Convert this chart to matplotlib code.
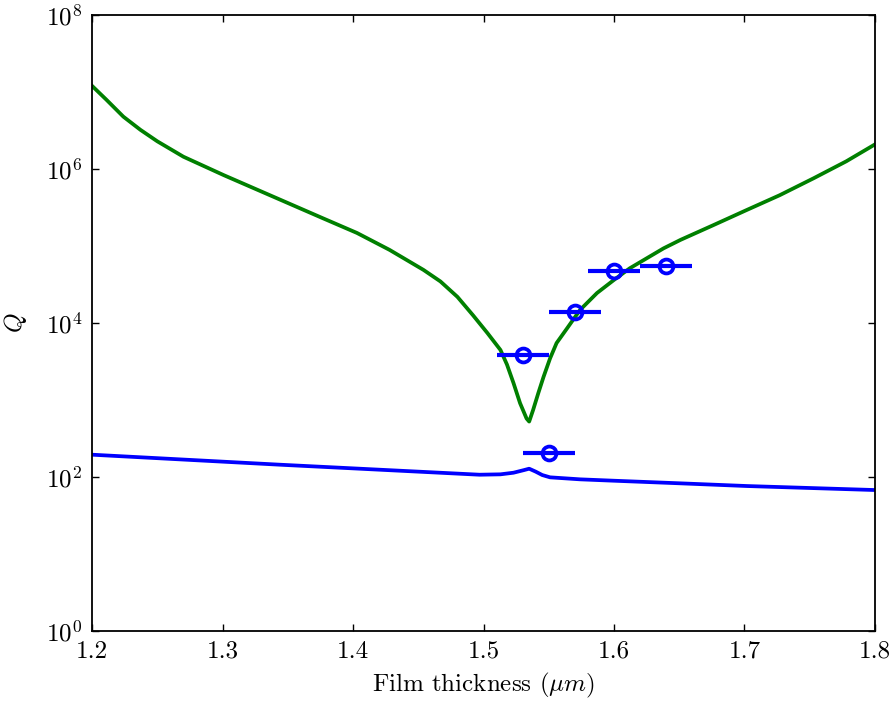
import numpy as np
import matplotlib
matplotlib.use("Agg")
import matplotlib.pyplot as plt

# Q of the resonant mode (green) vs film thickness as log10(Q)
green_x = [1.200, 1.211, 1.224, 1.237, 1.250, 1.270, 1.301, 1.339, 1.377, 1.403,
           1.428, 1.454, 1.467, 1.480, 1.492, 1.503, 1.513, 1.518, 1.523, 1.528,
           1.533, 1.535, 1.538, 1.542, 1.546, 1.551, 1.556, 1.564, 1.574, 1.587,
           1.600, 1.612, 1.625, 1.638, 1.651, 1.676, 1.702, 1.727, 1.753, 1.778,
           1.800]
green_logq = [7.08, 6.90, 6.68, 6.51, 6.36, 6.16, 5.92, 5.64, 5.36, 5.17,
              4.95, 4.69, 4.54, 4.34, 4.10, 3.87, 3.65, 3.46, 3.22, 2.96,
              2.76, 2.72, 2.87, 3.09, 3.30, 3.54, 3.74, 3.93, 4.17, 4.39,
              4.56, 4.71, 4.84, 4.97, 5.08, 5.27, 5.47, 5.66, 5.88, 6.10,
              6.32]

# second mode (blue line)
blue_x = [1.200, 1.344, 1.497, 1.513, 1.523, 1.531, 1.535, 1.540, 1.545, 1.551,
          1.574, 1.600, 1.651, 1.702, 1.800]
blue_logq = [2.29, 2.16, 2.03, 2.035, 2.056, 2.09, 2.108, 2.07, 2.026, 1.996,
             1.97, 1.952, 1.918, 1.883, 1.831]

# measured points with thickness uncertainty
meas_x = [1.530, 1.570, 1.600, 1.640, 1.550]
meas_logq = [3.58, 4.14, 4.68, 4.74, 2.31]
meas_xerr = [0.02, 0.02, 0.02, 0.02, 0.02]

plt.rcParams["font.family"] = "serif"
plt.rcParams["font.serif"] = ["cmr10", "DejaVu Serif"]
plt.rcParams["mathtext.fontset"] = "cm"
plt.rcParams["axes.unicode_minus"] = False
plt.rcParams["axes.formatter.use_mathtext"] = True

fig = plt.figure(figsize=(8.91, 7.02), dpi=100)
ax = fig.add_axes([0.1033, 0.1011, 0.8787, 0.8775])

ax.plot(green_x, 10 ** np.array(green_logq), color="green", lw=2.7)
ax.plot(blue_x, 10 ** np.array(blue_logq), color="blue", lw=2.7)
ax.errorbar(meas_x, 10 ** np.array(meas_logq), xerr=meas_xerr, fmt="o",
            color="blue", mfc="none", mec="blue", ms=10, mew=2.7,
            elinewidth=3.0, capsize=0)

ax.set_yscale("log")
ax.set_xlim(1.2, 1.8)
ax.set_ylim(1, 1e8)
ax.set_yticks([1, 1e2, 1e4, 1e6, 1e8])
ax.yaxis.set_minor_locator(matplotlib.ticker.NullLocator())
ax.set_xticks(np.arange(1.2, 1.81, 0.1))
ax.xaxis.set_major_formatter(matplotlib.ticker.FormatStrFormatter("%.1f"))

ax.tick_params(direction="in", length=5, width=1, top=True, right=True, labelsize=18)
ax.tick_params(axis="x", pad=7)
ax.tick_params(axis="y", pad=7)
for s in ax.spines.values():
    s.set_linewidth(1.3)

ax.set_xlabel(r"Film thickness ($\mu m$)", fontsize=18, labelpad=6)
ax.set_ylabel(r"$Q$", fontsize=18, labelpad=12)

fig.savefig("out.png", dpi=100)
